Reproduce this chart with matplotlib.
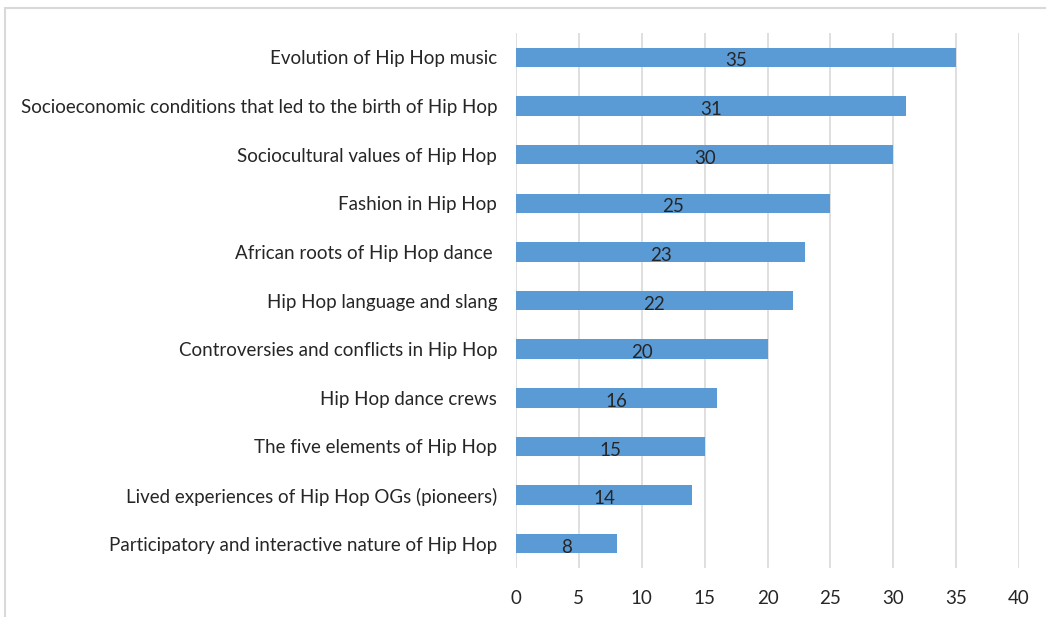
import matplotlib
matplotlib.use("Agg")
import matplotlib.pyplot as plt
from matplotlib.patches import Rectangle

# topics, top to bottom
topics = [
    "Evolution of Hip Hop music",
    "Socioeconomic conditions that led to the birth of Hip Hop",
    "Sociocultural values of Hip Hop",
    "Fashion in Hip Hop",
    "African roots of Hip Hop dance ",
    "Hip Hop language and slang",
    "Controversies and conflicts in Hip Hop",
    "Hip Hop dance crews",
    "The five elements of Hip Hop",
    "Lived experiences of Hip Hop OGs (pioneers)",
    "Participatory and interactive nature of Hip Hop",
]
counts = [35, 31, 30, 25, 23, 22, 20, 16, 15, 14, 8]
x_ticks = [0, 5, 10, 15, 20, 25, 30, 35, 40]

BAR_COLOR = "#5B9BD5"
TEXT_COLOR = "#262626"
GRID_COLOR = "#D9D9D9"
FS = 13.5

plt.rcParams["font.family"] = ["Lato", "DejaVu Sans"]

fig = plt.figure(figsize=(10.46, 6.17), dpi=100)
ax = fig.add_axes([0.4933, 0.0794, 0.4809, 0.8671])

ypos = list(range(len(topics)))
bars = ax.barh(ypos, counts, height=0.4, color=BAR_COLOR, zorder=3)
for b, v in zip(bars, counts):
    ax.annotate(str(v), (b.get_width() / 2, b.get_y() + b.get_height() / 2),
                xytext=(0, -1.5), textcoords="offset points",
                ha="center", va="center_baseline", fontsize=FS,
                color=TEXT_COLOR, zorder=4)

ax.set_ylim(len(topics) - 0.5, -0.5)
ax.set_xlim(0, 40)
ax.set_yticks(ypos)
ax.set_yticklabels(topics)
ax.set_xticks(x_ticks)

ax.tick_params(axis="y", length=0, pad=13.5, labelsize=FS, labelcolor=TEXT_COLOR)
ax.tick_params(axis="x", length=0, pad=15.5, labelsize=FS, labelcolor=TEXT_COLOR)

ax.grid(axis="x", color=GRID_COLOR, linewidth=1.2, zorder=0)
for s in ax.spines.values():
    s.set_visible(False)

# chart-area frame
fig.patches.append(Rectangle((5 / 1046, -0.1), 1.2, 1.1 - 8 / 617,
                             transform=fig.transFigure, fill=False,
                             edgecolor=GRID_COLOR, linewidth=1.5))

fig.savefig("out.png", dpi=100)
